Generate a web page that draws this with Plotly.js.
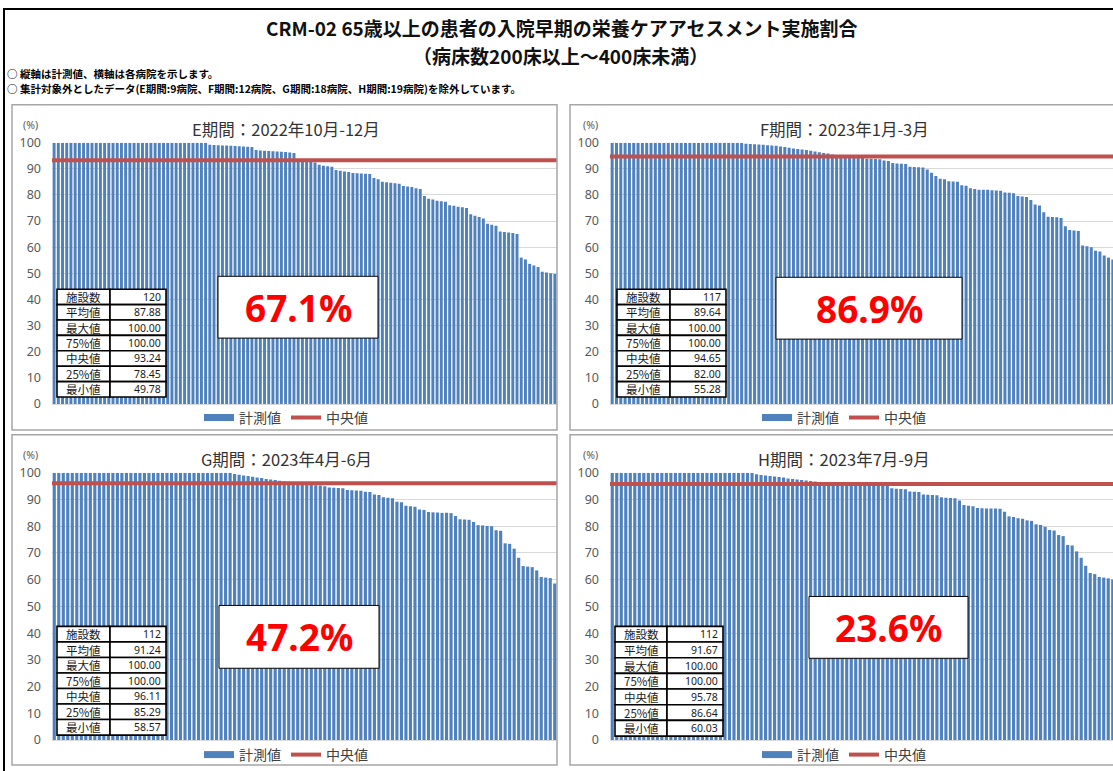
<!DOCTYPE html>
<html><head><meta charset="utf-8">
<script src="https://cdn.plot.ly/plotly-3.0.1.min.js"></script>
<style>html,body{margin:0;padding:0;overflow:hidden;background:#fff}#chart{width:1120px;height:771px}</style>
</head><body><div id="chart"></div>
<script>
// ---------- data ----------
const mainTitle = 'CRM-02 65歳以上の患者の入院早期の栄養ケアアセスメント実施割合';
const subTitle = '（病床数200床以上～400床未満）';
const notes = ['○ 縦軸は計測値、横軸は各病院を示します。',
  '○ 集計対象外としたデータ(E期間:9病院、F期間:12病院、G期間:18病院、H期間:19病院)を除外しています。'];
const periods = ['E期間：2022年10月-12月','F期間：2023年1月-3月','G期間：2023年4月-6月','H期間：2023年7月-9月'];
const seriesNames = ['計測値','中央値'];
const yTicks = [0,10,20,30,40,50,60,70,80,90,100];
const valuesE = [100,100,100,100,100,100,100,100,100,100,100,100,100,100,100,100,100,100,100,100,
  100,100,100,100,100,100,100,100,100,100,100,100,100,100,100,100,100,
  99.2,99.1,99.0,98.9,98.9,98.8,98.7,98.6,98.5,98.4,98.3,
  97.2,97.0,96.9,96.8,96.7,96.6,96.5,96.4,96.2,96.0,
  93.3,93.3,93.18,92.6,92.4,
  91.5,91.2,91.0,90.8,
  89.5,89.2,89.0,88.8,
  88.4,88.3,88.2,88.1,88.0,
  86.5,86.0,
  85.0,84.8,84.6,84.5,84.3,
  83.4,83.2,83.0,
  82.5,82.3,79.6,
  78.5,78.2,77.8,77.6,77.4,
  76.0,75.8,75.5,75.3,75.0,
  72.6,72.0,71.5,71.0,
  69.0,68.6,68.2,
  66.0,65.8,65.6,65.4,65.0,
  56.0,55.3,
  53.6,53.0,52.4,
  50.6,50.3,50.0,49.78];
const valuesF = [100,100,100,100,100,100,100,100,100,100,100,100,100,100,100,100,100,100,100,100,
  100,100,100,100,100,100,100,100,100,100,100,
  99.6,99.5,99.4,99.3,99.2,99.0,98.9,98.8,
  98.5,98.3,98.0,97.8,97.6,97.4,97.2,
  96.9,96.6,96.3,96.0,95.8,95.5,95.2,
  95.1,95.0,94.9,94.8,
  94.7,94.65,
  93.8,93.8,93.7,93.6,
  93.2,93.0,
  92.2,92.0,91.9,91.8,
  90.8,90.7,90.6,90.5,
  89.7,88.5,87.2,
  86.2,86.0,
  85.2,85.1,85.0,
  83.7,83.5,
  82.5,82.3,
  82.0,82.0,82.0,81.8,81.7,81.6,
  80.9,80.8,80.6,
  79.6,79.4,79.2,
  78.0,
  76.3,75.9,
  73.4,
  71.6,71.5,71.4,71.2,
  68.0,
  66.6,66.4,66.2,
  60.6,60.3,60.0,
  58.6,58.3,
  56.8,56.0,55.28];
const valuesG = [100,100,100,100,100,100,100,100,100,100,100,100,100,100,100,100,100,100,100,100,
  100,100,100,100,100,100,100,100,100,100,100,100,100,100,100,100,100,100,100,100,
  99.5,99.3,99.0,98.8,98.5,98.2,98.0,
  97.7,97.5,97.3,97.0,96.8,96.6,96.4,96.2,
  96.12,96.1,
  95.4,95.3,95.2,95.0,
  94.5,94.4,94.3,94.2,
  93.6,93.5,93.4,93.3,
  92.9,92.8,
  91.9,91.7,
  90.8,90.7,90.5,
  89.2,89.0,
  87.7,87.5,87.3,
  86.3,86.1,
  85.32,
  85.2,85.1,85.0,85.0,84.9,
  83.8,
  82.6,82.5,82.4,
  81.6,
  80.4,80.3,80.1,80.0,
  78.5,78.3,
  73.6,73.4,
  71.6,
  68.2,
  65.1,64.9,64.7,
  63.5,
  61.0,60.8,60.6,
  58.57];
const valuesH = [100,100,100,100,100,100,100,100,100,100,100,100,100,100,100,100,100,100,100,100,
  100,100,100,100,100,100,100,100,100,100,100,100,
  99.4,99.2,99.0,98.8,98.6,98.4,98.2,
  97.9,97.7,97.5,97.3,97.1,96.9,96.7,96.5,
  96.3,96.2,96.1,96.0,95.95,95.9,95.85,95.8,
  95.8,95.76,
  95.4,95.3,95.3,95.2,95.1,
  94.2,94.0,93.9,93.8,
  93.0,92.9,92.8,
  91.9,91.8,91.7,91.6,
  90.8,90.7,90.6,90.5,
  89.6,
  87.9,87.7,87.5,
  86.8,86.7,86.64,86.64,86.6,86.5,
  85.4,
  83.7,83.5,
  83.0,82.8,
  82.2,82.0,
  80.7,80.5,
  79.8,
  78.6,78.4,
  76.7,76.3,
  73.0,72.8,
  70.6,
  68.2,
  65.2,
  62.5,62.1,
  61.0,60.8,60.5,60.03];
const medians = [93.24, 94.65, 96.11, 95.78];
const statLabels = ['施設数','平均値','最大値','75%値','中央値','25%値','最小値'];
const statsE = ['120','87.88','100.00','100.00','93.24','78.45','49.78'];
const statsF = ['117','89.64','100.00','100.00','94.65','82.00','55.28'];
const statsG = ['112','91.24','100.00','100.00','96.11','85.29','58.57'];
const statsH = ['112','91.67','100.00','100.00','95.78','86.64','60.03'];
const rates = ['67.1%','86.9%','47.2%','23.6%'];

// ---------- geometry ----------
const W = 1120, H = 771;
const X = v => v / W, Y = v => 1 - v / H;
const FONT = '"Noto Sans CJK JP", "Noto Sans", sans-serif';
const allValues = [valuesE, valuesF, valuesG, valuesH];
const allStats = [statsE, statsF, statsG, statsH];
const panels = [
  {pl:52, pr:557, pt:143, pb:405, box:[12,105,557,431], cx:286, ty:129, ly:419, yl:30, yly:125,
   tab:[57,290,110,166,398], pct:[218,277,378,339]},
  {pl:610, pr:1115, pt:143, pb:405, box:[570,105,1115,431], cx:844, ty:129, ly:419, yl:590, yly:125,
   tab:[617,290,670,726,398], pct:[776,278,962,340]},
  {pl:52, pr:557, pt:474, pb:742, box:[12,436,557,767], cx:286, ty:460, ly:757, yl:30, yly:456,
   tab:[57,628,110,166,737], pct:[219,607,379,670]},
  {pl:610, pr:1115, pt:474, pb:742, box:[570,436,1115,767], cx:844, ty:460, ly:757, yl:590, yly:456,
   tab:[615,628,667,723,738], pct:[809,598,968,660]}
];

const traces = [], shapes = [], annotations = [];
const layout = {
  width: W, height: H, margin: {l:0, r:0, t:0, b:0},
  paper_bgcolor: '#fff', plot_bgcolor: '#fff',
  font: {family: FONT, color: '#404040'},
  bargap: 0.3, showlegend: true,
  shapes, annotations
};

panels.forEach((p, i) => {
  const s = i === 0 ? '' : String(i + 1);
  const vals = allValues[i];
  const n = vals.length;
  const xs = vals.map((_, k) => k);
  const legendKey = i === 0 ? 'legend' : 'legend' + (i + 1);
  traces.push({type:'bar', x: xs, y: vals, xaxis:'x'+s, yaxis:'y'+s,
    marker:{color:'#4f81bd', line:{width:0}}, showlegend:false, hoverinfo:'skip'});
  traces.push({type:'scatter', mode:'lines', x:[null], y:[null], xaxis:'x'+s, yaxis:'y'+s,
    name: seriesNames[0], line:{color:'#4f81bd', width:7}, legend: legendKey});
  traces.push({type:'scatter', mode:'lines', x:[-0.5, n - 0.5], y:[medians[i], medians[i]],
    xaxis:'x'+s, yaxis:'y'+s, name: seriesNames[1], line:{color:'#c0504d', width:4},
    legend: legendKey, hoverinfo:'skip'});
  layout['xaxis'+s] = {domain:[X(p.pl), X(p.pr)], anchor:'y'+s, range:[-0.5, n - 0.5],
    showticklabels:false, showgrid:false, zeroline:false, showline:true, linecolor:'#d9d9d9', linewidth:1, ticks:''};
  layout['yaxis'+s] = {domain:[Y(p.pb), Y(p.pt)], anchor:'x'+s, range:[0, 100],
    tickvals: yTicks, ticktext: yTicks.map(String), showgrid:true, gridcolor:'#d9d9d9', gridwidth:1,
    zeroline:false, showline:false, ticks:'', ticklabelstandoff: 10,
    tickfont:{size:12.5, color:'#595959', family:'"Noto Sans", sans-serif'}};
  layout[legendKey] = {orientation:'h', x:X(p.cx), y:Y(p.ly), xanchor:'center', yanchor:'middle',
    bgcolor:'rgba(0,0,0,0)', font:{size:14, color:'#404040', family: FONT}, itemwidth:30};

  // panel border
  shapes.push({type:'rect', xref:'paper', yref:'paper', x0:X(p.box[0]), x1:X(p.box[2]), y0:Y(p.box[1]), y1:Y(p.box[3]),
    line:{color:'#a6a6a6', width:1.5}, fillcolor:'rgba(0,0,0,0)', layer:'above'});
  // panel title
  annotations.push({xref:'paper', yref:'paper', x:X(p.cx), y:Y(p.ty), text: periods[i], showarrow:false,
    xanchor:'center', yanchor:'middle', font:{size:16.5, color:'#333', family: FONT}});
  // unit label
  annotations.push({xref:'paper', yref:'paper', x:X(p.yl), y:Y(p.yly), text:'(%)', showarrow:false,
    xanchor:'center', yanchor:'middle', font:{size:10.5, color:'#595959', family:'"Noto Sans", sans-serif'}});
  // stats table
  const [tL, tT, tM, tR, tB] = p.tab;
  const rh = (tB - tT) / statLabels.length;
  statLabels.forEach((lab, r) => {
    const y0 = tT + r * rh, y1 = y0 + rh;
    shapes.push({type:'rect', xref:'paper', yref:'paper', x0:X(tL), x1:X(tM), y0:Y(y0), y1:Y(y1),
      line:{color:'#000', width:1.6}, fillcolor:'#fff', layer:'above'});
    shapes.push({type:'rect', xref:'paper', yref:'paper', x0:X(tM), x1:X(tR), y0:Y(y0), y1:Y(y1),
      line:{color:'#000', width:1.6}, fillcolor:'#fff', layer:'above'});
    annotations.push({xref:'paper', yref:'paper', x:X((tL + tM) / 2), y:Y((y0 + y1) / 2), text: lab,
      showarrow:false, xanchor:'center', yanchor:'middle', font:{size:11.5, color:'#1a1a1a', family: FONT}});
    annotations.push({xref:'paper', yref:'paper', x:X(tR - 3), y:Y((y0 + y1) / 2), text: allStats[i][r],
      showarrow:false, xanchor:'right', yanchor:'middle', font:{size:10.5, color:'#1a1a1a', family:'"Noto Sans", sans-serif'}});
  });
  // percentage box
  const [bL, bT, bR, bB] = p.pct;
  shapes.push({type:'rect', xref:'paper', yref:'paper', x0:X(bL), x1:X(bR), y0:Y(bT), y1:Y(bB),
    line:{color:'#000', width:1}, fillcolor:'#fff', layer:'above'});
  annotations.push({xref:'paper', yref:'paper', x:X((bL + bR) / 2), y:Y((bT + bB) / 2), text:'<b>' + rates[i] + '</b>',
    showarrow:false, xanchor:'center', yanchor:'middle', font:{size:37, color:'#ff0000', family:'"Noto Sans", sans-serif'}});
});

// outer frame
shapes.push({type:'rect', xref:'paper', yref:'paper', x0:X(4), x1:X(1130), y0:Y(9), y1:Y(800),
  line:{color:'#000', width:2}, fillcolor:'rgba(0,0,0,0)', layer:'above'});
// title lines and notes
annotations.push({xref:'paper', yref:'paper', x:X(561), y:Y(28), text:'<b>' + mainTitle + '</b>',
  showarrow:false, xanchor:'center', yanchor:'middle', font:{size:19, color:'#111', family: FONT}});
annotations.push({xref:'paper', yref:'paper', x:X(560), y:Y(55.5), text:'<b>' + subTitle + '</b>',
  showarrow:false, xanchor:'center', yanchor:'middle', font:{size:19, color:'#111', family: FONT}});
annotations.push({xref:'paper', yref:'paper', x:X(5), y:Y(74), text:'<b>' + notes[0] + '</b>', showarrow:false,
  xanchor:'left', yanchor:'middle', font:{size:10.5, color:'#000', family: FONT}});
annotations.push({xref:'paper', yref:'paper', x:X(5), y:Y(89), text:'<b>' + notes[1] + '</b>', showarrow:false,
  xanchor:'left', yanchor:'middle', font:{size:10.5, color:'#000', family: FONT}});

Plotly.newPlot('chart', traces, layout, {displayModeBar:false, staticPlot:true});
</script></body></html>
